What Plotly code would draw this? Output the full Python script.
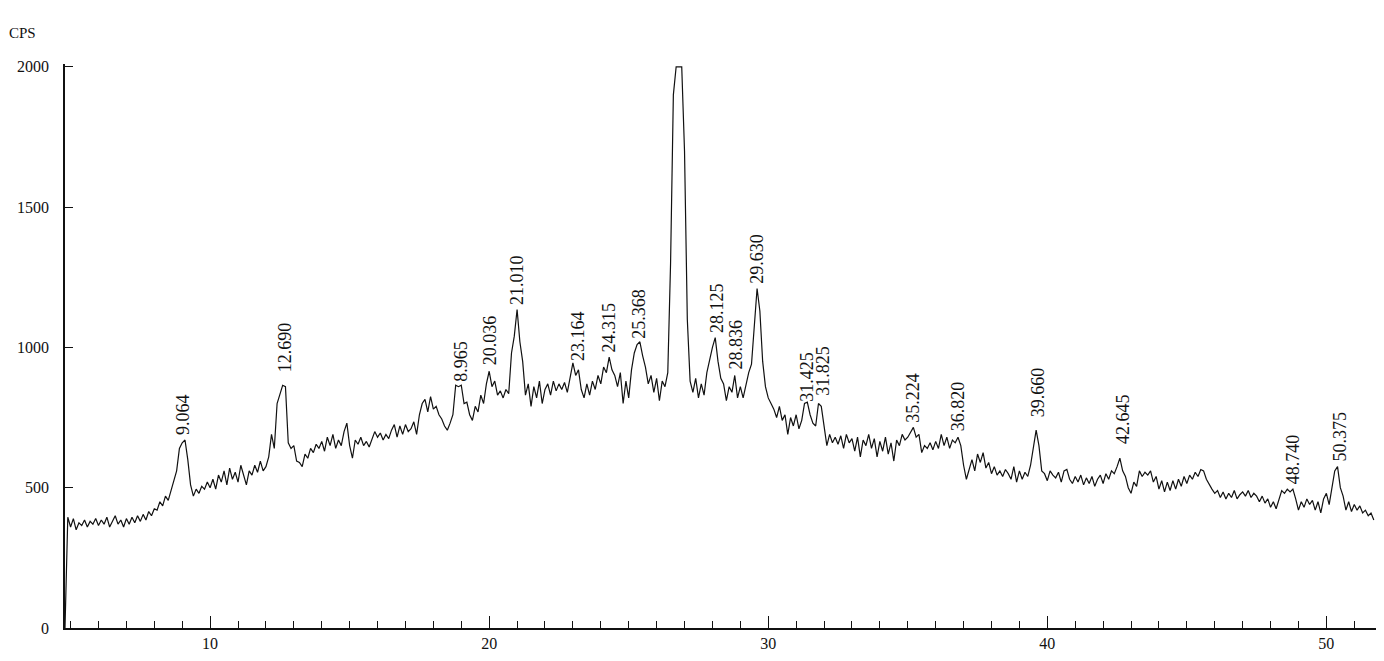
import numpy as np
import plotly.graph_objects as go

# XRD pattern, counts per second every 0.1 deg (2-theta)
counts = [
    0, 395,
    360, 390, 350, 375, 365, 385, 360, 380, 370, 390,            # 5
    365, 385, 370, 395, 360, 380, 400, 370, 385, 360,            # 6
    390, 370, 395, 375, 400, 380, 405, 385, 415, 400,            # 7
    425, 420, 450, 435, 470, 455, 490, 520, 560, 640,            # 8
    660, 670, 600, 510, 470, 495, 480, 505, 495, 520,            # 9
    500, 530, 495, 545, 520, 560, 510, 570, 530, 555,            # 10
    520, 580, 540, 510, 560, 545, 580, 555, 595, 560,            # 11
    575, 610, 690, 640, 800, 835, 865, 860, 660, 640,            # 12
    650, 595, 590, 575, 620, 605, 640, 625, 655, 640,            # 13
    665, 630, 680, 650, 690, 640, 670, 650, 700, 730,            # 14
    650, 605, 670, 655, 680, 650, 665, 645, 675, 700,            # 15
    680, 695, 670, 690, 675, 705, 725, 680, 720, 690,            # 16
    725, 700, 710, 735, 690, 760, 800, 815, 770, 825,            # 17
    780, 790, 760, 745, 720, 705, 730, 760, 865, 860,            # 18
    865, 800, 805, 760, 740, 790, 770, 830, 800, 870,            # 19
    915, 860, 880, 830, 845, 820, 850, 835, 980, 1040,           # 20
    1135, 1020, 950, 830, 870, 790, 860, 820, 880, 800,          # 21
    850, 870, 830, 880, 845, 870, 850, 875, 840, 900,            # 22
    945, 900, 920, 850, 820, 870, 830, 880, 850, 900,            # 23
    870, 930, 910, 965, 920, 900, 860, 910, 800, 880,            # 24
    820, 920, 980, 1010, 1020, 970, 930, 870, 900, 840,          # 25
    890, 810, 880, 860, 910, 1300, 1900, 2000, 2000, 2000,       # 26
    1700, 1100, 880, 840, 890, 820, 870, 830, 910, 960,          # 27
    1000, 1035, 950, 890, 870, 810, 860, 840, 900, 820,          # 28
    860, 820, 870, 910, 940, 1080, 1210, 1130, 950, 860,         # 29
    820, 800, 780, 750, 790, 740, 760, 690, 750, 720,            # 30
    760, 710, 740, 800, 805, 760, 730, 720, 800, 790,            # 31
    720, 650, 690, 660, 680, 655, 685, 640, 690, 660,            # 32
    675, 630, 680, 610, 670, 650, 690, 640, 675, 610,            # 33
    665, 630, 680, 620, 660, 595, 670, 650, 690, 670,            # 34
    680, 700, 715, 680, 690, 625, 650, 640, 660, 635,            # 35
    665, 640, 690, 650, 680, 640, 670, 660, 680, 650,            # 36
    580, 530, 570, 600, 560, 620, 590, 625, 570, 590,            # 37
    550, 575, 545, 560, 540, 565, 550, 530, 575, 520,            # 38
    560, 530, 555, 540, 580, 650, 705, 650, 560, 550,            # 39
    525, 560, 545, 535, 555, 520, 560, 565, 530, 515,            # 40
    540, 520, 545, 510, 535, 515, 540, 505, 530, 545,            # 41
    515, 550, 530, 560, 550, 575, 605, 560, 540, 500,            # 42
    480, 520, 505, 560, 540, 555, 545, 560, 520, 540,            # 43
    495, 525, 485, 520, 490, 525, 495, 530, 505, 540,            # 44
    515, 545, 530, 555, 540, 565, 560, 530, 510, 495,            # 45
    480, 490, 465, 485, 460, 480, 465, 490, 460, 475,            # 46
    485, 470, 490, 465, 480, 470, 450, 470, 445, 460,            # 47
    430, 450, 425, 460, 490, 480, 495, 485, 495, 460,            # 48
    420, 450, 430, 460, 440, 455, 420, 450, 410, 460,            # 49
    480, 440, 500, 560, 575, 500, 470, 420, 450, 415,            # 50
    440, 420, 435, 410, 420, 400, 410, 385,                      # 51
]
two_theta = np.round(4.8 + 0.1 * np.arange(len(counts)), 1)

# peak labels as printed on the chart, with where they sit
peak_labels = ["9.064", "12.690", "8.965", "20.036", "21.010", "23.164", "24.315",
               "25.368", "26.836", "28.125", "28.836", "29.630", "31.425", "31.825",
               "35.224", "36.820", "39.660", "42.645", "48.740", "50.375"]
peak_x = [9.0, 12.69, 19.0, 20.04, 20.97, 23.19, 24.3, 25.38, 26.85, 28.17, 28.85,
          29.6, 31.36, 31.96, 35.16, 36.81, 39.68, 42.69, 48.8, 50.48]
peak_y = [680, 905, 870, 930, 1145, 945, 975, 1025, 2020, 1045, 915, 1220, 800, 820,
          725, 695, 745, 650, 505, 585]

fig = go.Figure()
fig.add_trace(go.Scatter(x=two_theta, y=counts, mode="lines",
                         line=dict(color="#111111", width=1.2), showlegend=False))

for lab, px_, py_ in zip(peak_labels, peak_x, peak_y):
    fig.add_annotation(x=px_, y=py_, text=lab, textangle=-90, showarrow=False,
                       xanchor="center", yanchor="bottom",
                       font=dict(family="Liberation Serif", size=18, color="#111111"))

fig.add_annotation(xref="paper", yref="paper", x=-0.044, y=1.055, text="CPS",
                   showarrow=False, xanchor="left", yanchor="middle",
                   font=dict(family="Liberation Serif", size=15, color="#111111"))

fig.update_xaxes(range=[4.8, 51.85], showline=True, linecolor="#111111", linewidth=1.5,
                 ticks="inside", ticklen=12, tickwidth=1.2, tickcolor="#111111",
                 dtick=10, tick0=0, showgrid=False, zeroline=False,
                 minor=dict(ticks="inside", dtick=1, ticklen=7, tickwidth=1.2,
                            tickcolor="#111111", showgrid=False),
                 tickfont=dict(family="Liberation Serif", size=16, color="#111111"))
fig.update_yaxes(range=[0, 2010], showline=True, linecolor="#111111", linewidth=1.5,
                 ticks="inside", ticklen=8, tickwidth=1.2, tickcolor="#111111",
                 tickvals=[0, 500, 1000, 1500, 2000], showgrid=False, zeroline=False,
                 ticklabelstandoff=11,
                 tickfont=dict(family="Liberation Serif", size=16, color="#111111"))

# page body adds an 8px offset, so the figure is sized to fill the rest of the window
fig.update_layout(width=1376, height=653, plot_bgcolor="white", paper_bgcolor="white",
                  margin=dict(l=57, r=6, t=56, b=33))

fig.write_html("out.html")
